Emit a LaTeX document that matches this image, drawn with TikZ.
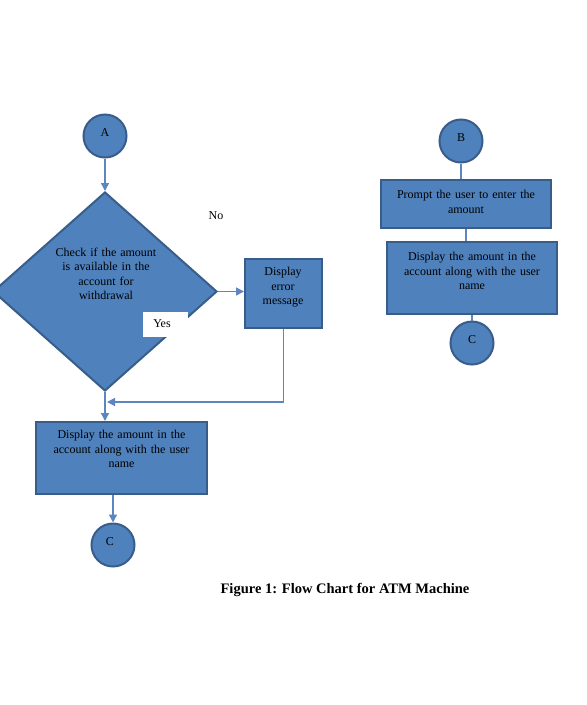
\documentclass[tikz,border=0pt]{standalone}
\usepackage{fontspec}
\setmainfont{Liberation Serif}
\usetikzlibrary{shapes.geometric,arrows.meta,positioning}
\definecolor{boxfill}{HTML}{4F81BD}
\definecolor{boxline}{HTML}{385D8A}
\definecolor{wire}{HTML}{5B86C2}
\tikzset{
    shp/.style={fill=boxfill,draw=boxline,line width=2pt,inner sep=0pt},
    conn/.style={circle,shp,minimum size=43pt},
    box/.style={rectangle,shp},
    txt/.style={align=center,inner sep=0pt,font=\fontsize{12}{14.5}\selectfont},
    wireline/.style={draw=wire,line width=1.4pt}
}
\begin{document}
\begin{tikzpicture}[x=1pt,y=-1pt,>={Triangle[length=8pt,width=8pt]}]
        \useasboundingbox (0,0) rectangle (587,705);
        % left column
        \node[conn] (A) at (105,136) {};
        \node[txt] (Atxt) at (105,133) {A};
        \node[diamond,shp,minimum width=224pt,minimum height=199pt] (check) at (105,291.5) {};
        \node[txt,text width=110pt] (checktxt) at (106,274) {Check if the amount\\is available in the\\account for\\withdrawal};
        \node[fill=white,minimum width=45pt,minimum height=25pt,inner sep=0pt] (yes) at (165.5,324.5) {};
        \node[txt] (yestxt) at (162,324) {Yes};
        \node[txt] (no) at (216,216) {No};
        \node[box,minimum width=77pt,minimum height=69pt] (err) at (283.5,293.5) {};
        \node[txt] (errtxt) at (283,287.5) {Display\\error\\message};
        \node[box,minimum width=171pt,minimum height=72pt] (disp) at (121.5,458) {};
        \node[txt,text width=165pt] (disptxt) at (121.5,449) {Display the amount in the\\account along with the user\\name};
        \node[conn] (C) at (113,545) {};
        \node[txt] (Ctxt) at (110,542) {C};
        \coordinate (join) at (107,402);
        \draw[wireline,->] (A) -- (check.north);
        \draw[wireline,->] (check.east) -- (check.east -| err.west);
        \draw[wireline,->] (err.south) |- (join);
        \draw[wireline,->] (check.south) -- (check.south |- disp.north);
        \draw[wireline,->] (disp.south -| C) -- (C);
        % right column
        \node[conn] (B) at (461,141) {};
        \node[txt] (Btxt) at (461,138) {B};
        \node[box,minimum width=170pt,minimum height=48pt] (prompt) at (466,204) {};
        \node[txt,text width=165pt] (prompttxt) at (466,202) {Prompt the user to enter the\\amount};
        \node[box,minimum width=170pt,minimum height=72pt] (dispR) at (472,278) {};
        \node[txt,text width=165pt] (dispRtxt) at (472,271) {Display the amount in the\\account along with the user\\name};
        \node[conn] (C2) at (472,343) {};
        \node[txt] (C2txt) at (472,340) {C};
        \draw[wireline] (B) -- (B |- prompt.north);
        \draw[wireline] (prompt.south) -- (prompt.south |- dispR.north);
        \draw[wireline] (dispR.south) -- (C2);
        % caption
        \node[font=\fontsize{14.5}{17}\selectfont\bfseries] (caption) at (345,590) {Figure 1: Flow Chart for ATM Machine};
    \end{tikzpicture}
\end{document}
